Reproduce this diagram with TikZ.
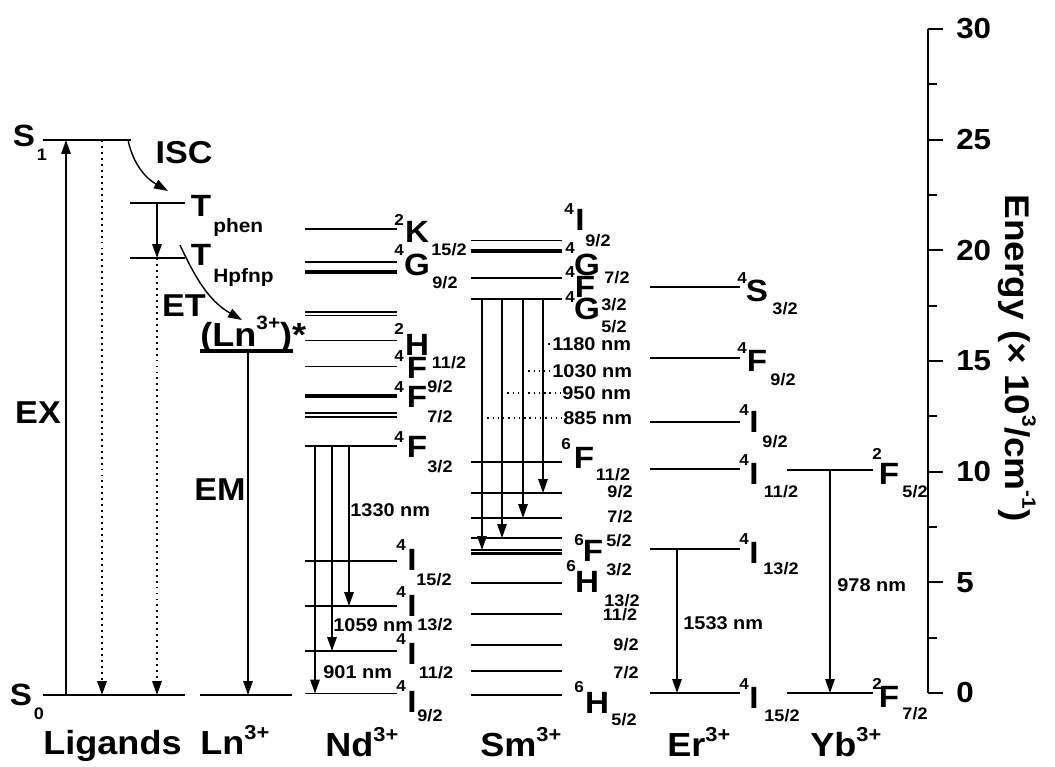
\documentclass[tikz,border=0pt]{standalone}
\usepackage{fontspec}
\setmainfont{Liberation Sans}[FakeStretch=1.08]
\usetikzlibrary{arrows.meta,calc,positioning}
\tikzset{
    every node/.style={font=\bfseries,inner sep=0pt},
    lvl/.style={line width=1.1pt},
    lvlthin/.style={line width=0.8pt},
    lvlthick/.style={line width=1.8pt},
    lvlmid/.style={line width=1.3pt},
    lvlbold/.style={line width=2.4pt},
    tr/.style={line width=0.8pt,-{Triangle[length=2.8mm,width=1.9mm]}},
    trdot/.style={tr,line width=1pt,dash pattern=on 1.1pt off 2.3pt},
    dotline/.style={line width=0.6pt,dash pattern=on 0.8pt off 2.2pt},
    term/.style={font=\fontsize{17.5}{17.5}\selectfont\bfseries},
    upidx/.style={font=\fontsize{9}{9}\selectfont\bfseries},
    loidx/.style={font=\fontsize{9.5}{9.5}\selectfont\bfseries},
    wave/.style={font=\fontsize{10.5}{10.5}\selectfont\bfseries,anchor=west},
    proc/.style={font=\fontsize{18}{18}\selectfont\bfseries},
    trip/.style={font=\fontsize{11}{11}\selectfont\bfseries,anchor=west},
    ion/.style={font=\fontsize{19}{19}\selectfont\bfseries,anchor=base west},
    ticklab/.style={font=\fontsize{16.5}{16.5}\selectfont\bfseries,anchor=west}
}
\newcommand{\ionch}{\raisebox{8.5pt}{\fontsize{11.5}{11.5}\selectfont 3+}}
\newcommand{\upsc}[1]{\raisebox{0.5em}{\fontsize{11}{11}\selectfont #1}}

\begin{document}
\begin{tikzpicture}[x=0.02cm,y=-0.02cm]
\useasboundingbox (0,0) rectangle (1055,767);

% ligand and Ln levels
\draw[lvl] (43,140) coordinate (ligS1L) -- (131,140) coordinate (ligS1R);
\draw[lvl] (43,695) coordinate (ligS0L) -- (185,695) coordinate (ligS0R);
\draw[lvl] (130,203) coordinate (ligTaL) -- (185,203) coordinate (ligTaR);
\draw[lvl] (130,258) coordinate (ligTbL) -- (185,258) coordinate (ligTbR);
\draw[lvlbold] (200,351) coordinate (lnEL) -- (293,351) coordinate (lnER);
\draw[lvl] (200,695) coordinate (lnGL) -- (292,695) coordinate (lnGR);

% Nd, Sm, Er, Yb levels
\foreach \y/\n/\s in {229/ndK/lvl,262/ndGa/lvl,272/ndGb/lvlthick,312/ndHa/lvlthin,
    315.5/ndHb/lvlthin,340.5/ndH/lvl,366.5/ndFa/lvl,396/ndFb/lvlbold,413/ndFc/lvlthin,
    417/ndFd/lvlthin,446/ndF32/lvl,561/ndI152/lvl,606/ndI132/lvl,651/ndI112/lvl,693.5/ndI92/lvl}
    \draw[\s] (305,\y) coordinate (\n L) -- (397,\y) coordinate (\n R);
\foreach \y/\n/\s in {240.5/smI/lvl,251/smGa/lvlthick,278/smF/lvl,299/smG52/lvl,462/smF112/lvl,
    493/smF92/lvl,518/smF72/lvl,538/smF52/lvl,550/smF32/lvlmid,553.5/smH152/lvlmid,
    583/smH132/lvl,614/smH112/lvl,645/smH92/lvl,671/smH72/lvlthin,695/smH52/lvl}
    \draw[\s] (471,\y) coordinate (\n L) -- (562,\y) coordinate (\n R);
\foreach \y/\n in {287/erS32,358/erF92,422/erI92,469/erI112,549/erI132,693/erI152}
    \draw[lvl] (650,\y) coordinate (\n L) -- (740,\y) coordinate (\n R);
\foreach \y/\n in {470/ybF52,693/ybF72}
    \draw[lvl] (787,\y) coordinate (\n L) -- (873,\y) coordinate (\n R);

% transitions
\draw[tr] ($(ligS0L)+(23,0)$) coordinate (exA) -- (exA |- ligS1L);
\draw[trdot] ($(ligS1L)+(59,0)$) coordinate (fluA) -- (fluA |- ligS0L);
\draw[tr] ($(ligTaL)+(27,0)$) coordinate (icA) -- (icA |- ligTbL);
\draw[trdot] ($(ligTbL)+(27,0)$) coordinate (phA) -- (phA |- ligS0L);
\draw[tr] ($(lnEL)+(48,0)$) coordinate (emA) -- (emA |- lnGL);
\coordinate (iscE) at (168,191);
\draw[tr] ($(ligS1R)+(-3,0)$) to[out=-78,in=150] (iscE);
\coordinate (etS) at (180,245);
\coordinate (etE) at (242,320);
\draw[tr] (etS) to[out=-65,in=150] (etE);

\draw[tr] ($(ndF32L)+(10,0)$) coordinate (ndA) -- (ndA |- ndI92L);
\draw[tr] ($(ndF32L)+(27,0)$) coordinate (ndB) -- (ndB |- ndI112L);
\draw[tr] ($(ndF32L)+(44,0)$) coordinate (ndC) -- (ndC |- ndI132L);

\draw[tr] ($(smG52L)+(11,0)$) coordinate (smA) -- (smA |- smF32L);
\draw[tr] ($(smG52L)+(31,0)$) coordinate (smB) -- (smB |- smF52L);
\draw[tr] ($(smG52L)+(52,0)$) coordinate (smC) -- (smC |- smF72L);
\draw[tr] ($(smG52L)+(72,0)$) coordinate (smD) -- (smD |- smF92L);

\draw[tr] ($(erI132L)+(27,0)$) coordinate (erA) -- (erA |- erI152L);
\draw[tr] ($(ybF52L)+(43,0)$) coordinate (ybA) -- (ybA |- ybF72L);

% wavelengths
\node[wave] (w1330) at (350,510) {1330 nm};
\node[wave] (w1059) at (333,625) {1059 nm};
\node[wave] (w901) at (323,672) {901 nm};
\node[wave] (w1180) at (552,344) {1180 nm};
\node[wave] (w1030) at (552,371) {1030 nm};
\node[wave] (w950) at (562,393) {950 nm};
\node[wave] (w885) at (563,418) {885 nm};
\node[wave] (w1533) at (683,623) {1533 nm};
\node[wave] (w978) at (837,585) {978 nm};
\draw[dotline] (smD |- w1180) -- ([xshift=-1pt]w1180.west);
\draw[dotline] (smC |- w1030) -- ([xshift=-1pt]w1030.west);
\draw[dotline] (smB |- w950) -- ([xshift=-1pt]w950.west);
\draw[dotline] (smA |- w885) -- ([xshift=-1pt]w885.west);

% ligand labels
\node[term] (lS1) at (24,136) {S};
\node[loidx] (lS1i) at (42,155) {1};
\node[term] (lS0) at (21,695) {S};
\node[loidx] (lS0i) at (39,714) {0};
\node[proc] (isc) at (184,153) {ISC};
\node[term] (lTa) at (201,206) {T};
\node[trip] (lTai) at (213,228) {phen};
\node[term] (lTb) at (201,255) {T};
\node[trip] (lTbi) at (213,278) {Hpfnp};
\node[proc] (et) at (184,306) {ET};
\node[font=\fontsize{19}{19}\selectfont\bfseries,anchor=base west] (lnx) at (200,346) {(Ln\upsc{3+})*};
\node[proc] (ex) at (38,413) {EX};
\node[proc] (em) at (220,490) {EM};

% Nd labels
\node[upidx] (ndKu) at (399,220) {2};
\node[term] (ndKt) at (417,232) {K};
\node[loidx] (ndKj) at (449,250) {15/2};
\node[upidx] (ndGu) at (399,250) {4};
\node[term] (ndGt) at (417,265) {G};
\node[loidx] (ndGj) at (445,283) {9/2};
\node[upidx] (ndHu) at (399,329) {2};
\node[term] (ndHt) at (417,345) {H};
\node[loidx] (ndHj) at (449,363) {11/2};
\node[upidx] (ndFau) at (399,356) {4};
\node[term] (ndFat) at (417,368) {F};
\node[upidx] (ndFbu) at (399,387) {4};
\node[term] (ndFbt) at (417,397) {F};
\node[loidx] (ndFbj) at (440,387) {9/2};
\node[loidx] (ndFcj) at (440,417) {7/2};
\node[upidx] (ndFu) at (399,437) {4};
\node[term] (ndFt) at (417,447) {F};
\node[loidx] (ndFj) at (440,467) {3/2};
\node[upidx] (ndIau) at (401,545) {4};
\node[term] (ndIat) at (412,560) {I};
\node[loidx] (ndIaj) at (434,580) {15/2};
\node[upidx] (ndIbu) at (401,592) {4};
\node[term] (ndIbt) at (412,606) {I};
\node[loidx] (ndIbj) at (435,625) {13/2};
\node[upidx] (ndIcu) at (401,639) {4};
\node[term] (ndIct) at (412,654) {I};
\node[loidx] (ndIcj) at (436,673) {11/2};
\node[upidx] (ndIdu) at (401,686) {4};
\node[term] (ndIdt) at (412,702) {I};
\node[loidx] (ndIdj) at (430,716) {9/2};

% Sm labels
\node[upidx] (smIu) at (569,209) {4};
\node[term] (smIt) at (580,220) {I};
\node[loidx] (smIj) at (598,241) {9/2};
\node[upidx] (smGau) at (570,248) {4};
\node[term] (smGat) at (587,265) {G};
\node[loidx] (smGaj) at (617,278) {7/2};
\node[upidx] (smFu) at (570,272) {4};
\node[term] (smFt) at (585,287) {F};
\node[upidx] (smGbu) at (570,297) {4};
\node[term] (smGbt) at (587,309) {G};
\node[loidx] (smGbj) at (614,305) {3/2};
\node[loidx] (smGcj) at (614,327) {5/2};
\node[upidx] (smFau) at (566,444) {6};
\node[term] (smFat) at (584,458) {F};
\node[loidx] (smFaj) at (613,475) {11/2};
\node[loidx] (smFbj) at (620,492) {9/2};
\node[loidx] (smFcj) at (620,517) {7/2};
\node[upidx] (smFdu) at (579,540) {6};
\node[term] (smFdt) at (593,551) {F};
\node[loidx] (smFdj) at (619,541) {5/2};
\node[upidx] (smHau) at (571,566) {6};
\node[term] (smHat) at (587,582) {H};
\node[loidx] (smHaj) at (619,570) {3/2};
\node[loidx] (smHbj) at (622,601) {13/2};
\node[loidx] (smHcj) at (620,615) {11/2};
\node[loidx] (smHdj) at (626,645) {9/2};
\node[loidx] (smHej) at (626,673) {7/2};
\node[upidx] (smHfu) at (579,687) {6};
\node[term] (smHft) at (597,703) {H};
\node[loidx] (smHfj) at (624,720) {5/2};

% Er labels
\node[upidx] (erSu) at (742,278) {4};
\node[term] (erSt) at (757,291) {S};
\node[loidx] (erSj) at (785,309) {3/2};
\node[upidx] (erFu) at (742,348) {4};
\node[term] (erFt) at (757,361) {F};
\node[loidx] (erFj) at (783,380) {9/2};
\node[upidx] (erIau) at (744,410) {4};
\node[term] (erIat) at (754,422) {I};
\node[loidx] (erIaj) at (775,442) {9/2};
\node[upidx] (erIbu) at (744,460) {4};
\node[term] (erIbt) at (754,474) {I};
\node[loidx] (erIbj) at (781,492) {11/2};
\node[upidx] (erIcu) at (744,539) {4};
\node[term] (erIct) at (754,553) {I};
\node[loidx] (erIcj) at (781,569) {13/2};
\node[upidx] (erIdu) at (744,684) {4};
\node[term] (erIdt) at (754,698) {I};
\node[loidx] (erIdj) at (782,716) {15/2};

% Yb labels
\node[upidx] (ybFau) at (877,454) {2};
\node[term] (ybFat) at (889,474) {F};
\node[loidx] (ybFaj) at (915,492) {5/2};
\node[upidx] (ybFbu) at (877,684) {2};
\node[term] (ybFbt) at (889,697) {F};
\node[loidx] (ybFbj) at (915,714) {7/2};

% column names
\node[ion] (bLig) at (43,754) {Ligands};
\node[ion] (bLn) at (200,754) {Ln\ionch};
\node[ion] (bNd) at (325,756) {Nd\ionch};
\node[ion] (bSm) at (480,756) {Sm\ionch};
\node[ion] (bEr) at (667,756) {Er\ionch};
\node[ion] (bYb) at (810,756) {Yb\ionch};

% energy axis
\draw[lvl] (928,29) coordinate (axT) -- (928,693) coordinate (axB);
\foreach \e in {0,5,...,30}
    \draw[lvl] (928,{693-22.133*\e}) -- ++(15,0) node[ticklab,xshift=7pt] (tk\e) {\e};
\foreach \e in {2.5,7.5,...,27.5}
    \draw[lvl] (928,{693-22.133*\e}) -- ++(9,0);
\node[font=\fontsize{19.5}{19.5}\selectfont\bfseries,rotate=-90] (axlab) at (1017,358)
    {Energy (× 10\upsc{3}/cm\upsc{-1})};
\end{tikzpicture}
\end{document}
